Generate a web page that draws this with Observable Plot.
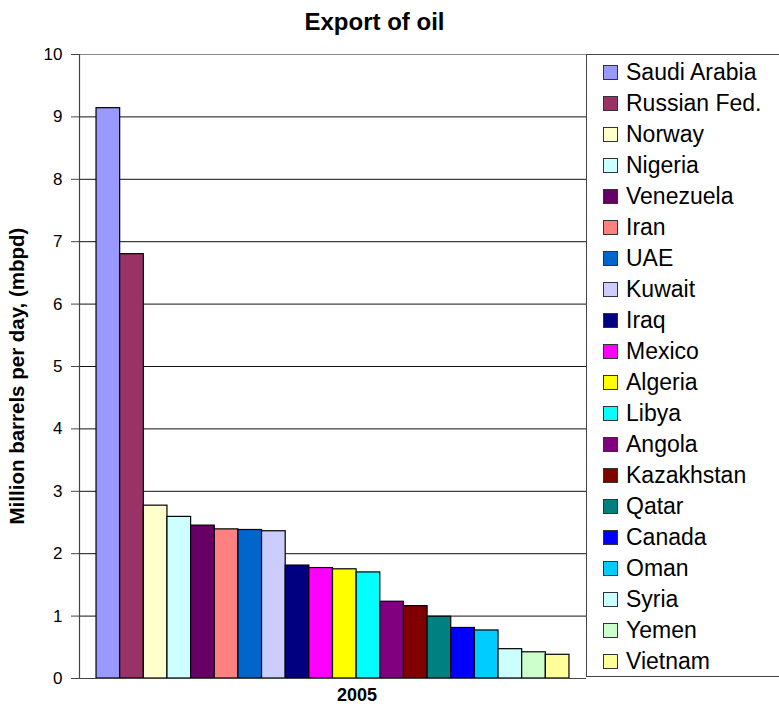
<!DOCTYPE html>
<html>
<head>
<meta charset="utf-8">
<script src="https://cdn.jsdelivr.net/npm/d3@7"></script>
<script src="https://cdn.jsdelivr.net/npm/@observablehq/plot@0.6"></script>
<style>
  html, body { margin: 0; padding: 0; background: #fff; }
  #wrap { position: relative; width: 779px; height: 711px; overflow: hidden; font-family: "Liberation Sans", Arial, sans-serif; color: #000; }
  #title { position: absolute; left: 0; width: 749px; top: 10px; text-align: center; font-weight: bold; font-size: 24px; line-height: 24px; }
  #ylab { position: absolute; left: 17px; top: 376px; transform: translate(-50%, -50%) rotate(-90deg); white-space: nowrap; font-weight: bold; font-size: 20.5px; line-height: 22px; }
  #chart { position: absolute; left: 0; top: 0; }
  #legend { position: absolute; left: 586px; top: 54px; width: 260px; height: 623px; border: 1px solid #444; box-sizing: border-box; padding-top: 2px; background: #fff; }
  .row { height: 31px; display: flex; align-items: center; }
  .sw { width: 15px; height: 15px; border: 1px solid #333; margin-left: 16px; margin-right: 8px; box-sizing: border-box; flex: none; }
  .lt { font-size: 23px; line-height: 31px; white-space: nowrap; }
</style>
</head>
<body>
<div id="wrap">
  <div id="chart"></div>
  <div id="title">Export of oil</div>
  <div id="ylab">Million barrels per day, (mbpd)</div>
  <div id="legend"></div>
</div>
<script>
const countries = ["Saudi Arabia","Russian Fed.","Norway","Nigeria","Venezuela","Iran","UAE","Kuwait","Iraq","Mexico","Algeria","Libya","Angola","Kazakhstan","Qatar","Canada","Oman","Syria","Yemen","Vietnam"];
const values = [9.14, 6.80, 2.77, 2.59, 2.45, 2.39, 2.38, 2.36, 1.81, 1.77, 1.75, 1.70, 1.23, 1.16, 0.99, 0.81, 0.77, 0.47, 0.42, 0.38];
const colors = ["#9999FF","#993366","#FFFFCC","#CCFFFF","#660066","#FF8080","#0066CC","#CCCCFF","#000080","#FF00FF","#FFFF00","#00FFFF","#800080","#800000","#008080","#0000FF","#00CCFF","#CCFFFF","#CCFFCC","#FFFF99"];
const yTicks = [0,1,2,3,4,5,6,7,8,9,10];
const gridTicks = [1,2,3,4,5,6,7,8,9];
const categoryLabel = ["2005"];

const data = countries.map((c, i) => ({country: c, value: values[i]}));

const chart = Plot.plot({
  width: 779,
  height: 711,
  marginLeft: 79,
  marginRight: 193,
  marginTop: 54,
  marginBottom: 33,
  style: {fontFamily: "Liberation Sans, Arial, sans-serif", color: "#000", background: "transparent"},
  x: {domain: countries, paddingInner: 0, paddingOuter: 0.72, round: false, axis: null},
  y: {domain: [0, 10], axis: null},
  color: {domain: countries, range: colors},
  marks: [
    Plot.gridY(gridTicks, {stroke: "#111", strokeOpacity: 1, strokeWidth: 1}),
    Plot.ruleY([10], {stroke: "#888", strokeWidth: 1}),
    Plot.barY(data, {x: "country", y: "value", fill: "country", stroke: "#000", strokeWidth: 1.2}),
    Plot.ruleY([0], {stroke: "#444", strokeWidth: 1.2}),
    Plot.axisY(yTicks, {tickSize: 8, tickPadding: 9, fontSize: 17, stroke: "#444", fill: "#000", tickFormat: d3.format("d"), label: null}),
    Plot.frame({anchor: "left", stroke: "#444", strokeWidth: 1.2}),
    Plot.text(categoryLabel, {frameAnchor: "bottom", dx: 24, dy: 22, fontSize: 18, fontWeight: "bold", fill: "#000"})
  ]
});
document.getElementById("chart").appendChild(chart);

const legend = document.getElementById("legend");
countries.forEach((c, i) => {
  const row = document.createElement("div");
  row.className = "row";
  const sw = document.createElement("div");
  sw.className = "sw";
  sw.style.background = colors[i];
  const lt = document.createElement("span");
  lt.className = "lt";
  lt.textContent = c;
  row.appendChild(sw);
  row.appendChild(lt);
  legend.appendChild(row);
});
</script>
</body>
</html>
